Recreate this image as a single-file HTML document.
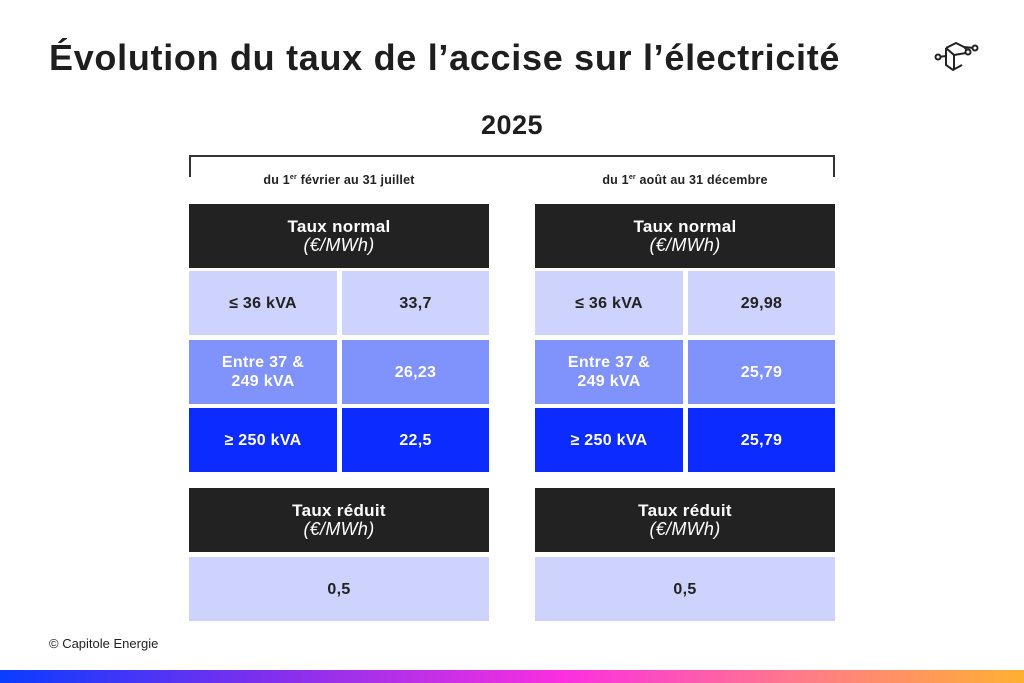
<!DOCTYPE html>
<html><head><meta charset="utf-8"><style>
*{margin:0;padding:0;box-sizing:border-box}
body{width:1024px;height:683px;background:#fff;position:relative;overflow:hidden;font-family:"Liberation Sans",sans-serif;color:#222}
.a{position:absolute}
.c{position:absolute;display:flex;align-items:center;justify-content:center;text-align:center;font-weight:bold;font-size:16px;line-height:19px;letter-spacing:0.3px}
.h{background:#222;color:#fff;font-size:17px}
.h i{font-weight:normal;font-size:18px}
.l{background:#cdd3fd;color:#222}
.m{background:#8093fc;color:#fff}
.d{background:#0c2bff;color:#fff}
.p{font-size:12.5px;font-weight:bold;color:#222;text-align:center;letter-spacing:0.2px}
.p sup{font-size:7px}
</style></head><body>
<div class="a" style="left:49px;top:37px;font-size:36px;font-weight:bold;letter-spacing:0.7px;color:#1e1e1e;white-space:nowrap">Évolution du taux de l’accise sur l’électricité</div>
<svg class="a" style="left:930px;top:35px" width="55" height="45" viewBox="0 0 55 45" fill="none" stroke="#222" stroke-width="2">
<path d="M16 13 L26 8 L34 12 L44 13 M16 13 L16 30 L23 35 L32 30 M16 13 L24 20 L24 35 M16 21 L8 22 M24 20 L36 18 M34 12 L38 16"/>
<circle cx="8" cy="22" r="2.5" fill="#fff"/><circle cx="38" cy="17" r="2.5" fill="#fff"/><circle cx="45" cy="13" r="2.5" fill="#fff"/>
</svg>
<div class="a" style="left:0;width:1024px;top:110px;text-align:center;font-size:27px;font-weight:bold;letter-spacing:0.5px;color:#1e1e1e">2025</div>
<div class="a" style="left:189px;top:155px;width:646px;height:22px;border:2px solid #333;border-bottom:none"></div>
<div class="a p" style="left:189px;width:300px;top:173px">du 1<sup>er</sup> février au 31 juillet</div>
<div class="a p" style="left:535px;width:300px;top:173px">du 1<sup>er</sup> août au 31 décembre</div>

<div class="c h" style="left:189px;top:204px;width:300px;height:64px"><div>Taux normal<br><i>(€/MWh)</i></div></div>
<div class="c l" style="left:189px;top:271px;width:148px;height:64px">≤ 36 kVA</div>
<div class="c l" style="left:342px;top:271px;width:147px;height:64px">33,7</div>
<div class="c m" style="left:189px;top:340px;width:148px;height:64px">Entre 37 &amp;<br>249 kVA</div>
<div class="c m" style="left:342px;top:340px;width:147px;height:64px">26,23</div>
<div class="c d" style="left:189px;top:408px;width:148px;height:64px">≥ 250 kVA</div>
<div class="c d" style="left:342px;top:408px;width:147px;height:64px">22,5</div>
<div class="c h" style="left:189px;top:488px;width:300px;height:64px"><div>Taux réduit<br><i>(€/MWh)</i></div></div>
<div class="c l" style="left:189px;top:557px;width:300px;height:64px">0,5</div>

<div class="c h" style="left:535px;top:204px;width:300px;height:64px"><div>Taux normal<br><i>(€/MWh)</i></div></div>
<div class="c l" style="left:535px;top:271px;width:148px;height:64px">≤ 36 kVA</div>
<div class="c l" style="left:688px;top:271px;width:147px;height:64px">29,98</div>
<div class="c m" style="left:535px;top:340px;width:148px;height:64px">Entre 37 &amp;<br>249 kVA</div>
<div class="c m" style="left:688px;top:340px;width:147px;height:64px">25,79</div>
<div class="c d" style="left:535px;top:408px;width:148px;height:64px">≥ 250 kVA</div>
<div class="c d" style="left:688px;top:408px;width:147px;height:64px">25,79</div>
<div class="c h" style="left:535px;top:488px;width:300px;height:64px"><div>Taux réduit<br><i>(€/MWh)</i></div></div>
<div class="c l" style="left:535px;top:557px;width:300px;height:64px">0,5</div>

<div class="a" style="left:49px;top:636px;font-size:13px;color:#222">© Capitole Energie</div>
<div class="a" style="left:0;top:670px;width:1024px;height:13px;background:linear-gradient(90deg,#0a3cff 0%,#7a30ee 25%,#fb2fe0 55%,#ff7a8a 78%,#ffb033 100%)"></div>
</body></html>
